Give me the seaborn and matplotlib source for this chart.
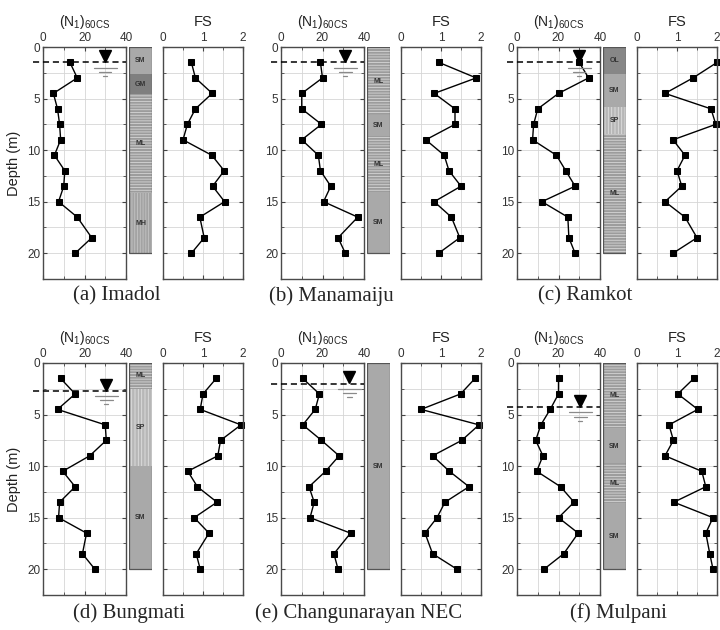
import numpy as np
import pandas as pd
import seaborn as sns
import matplotlib.pyplot as plt
from matplotlib.ticker import MultipleLocator

#####################################################################
# data
depth = [1.5, 3.0, 4.5, 6.0, 7.5, 9.0, 10.5, 12.0, 13.5, 15.0, 16.5, 18.5, 20.0]

letters = ["a", "b", "c", "d", "e", "f"]
sites = ["Imadol", "Manamaiju", "Ramkot", "Bungmati", "Changunarayan NEC", "Mulpani"]

n60_imadol = [13, 16.5, 5, 7, 8, 8.5, 5.5, 10.5, 10, 7.5, 16.5, 23.5, 15.5]
n60_manamaiju = [19, 20, 10, 10, 19.5, 10, 18, 19, 24, 20.5, 37, 27.5, 31]
n60_ramkot = [30, 34.5, 20, 10, 8, 7.5, 19, 23.5, 28, 12, 24.5, 25, 28]
n60_bungmati = [8.5, 15.5, 7, 30, 30.5, 22.5, 9.5, 15.5, 8, 7.5, 21, 19, 25]
n60_changu = [10.5, 18.5, 16.5, 10.5, 19.5, 28, 21.5, 13.5, 16, 14, 33.5, 25.5, 27.5]
n60_mulpani = [20, 20, 16, 11.5, 9, 12.5, 9.5, 21, 27.5, 20, 29.5, 22.5, 13]

fs_imadol = [0.71, 0.81, 1.23, 0.81, 0.61, 0.5, 1.22, 1.53, 1.24, 1.54, 0.92, 1.03, 0.71]
fs_manamaiju = [0.95, 1.88, 0.83, 1.35, 1.35, 0.62, 1.08, 1.2, 1.5, 0.83, 1.26, 1.47, 0.94]
fs_ramkot = [2.0, 1.4, 0.7, 1.85, 1.97, 0.9, 1.2, 1.0, 1.12, 0.7, 1.2, 1.5, 0.9]
fs_bungmati = [1.33, 1.0, 0.93, 1.95, 1.44, 1.37, 0.62, 0.86, 1.35, 0.78, 1.15, 0.83, 0.93]
fs_changu = [1.85, 1.49, 0.5, 1.95, 1.52, 0.79, 1.21, 1.7, 1.1, 0.9, 0.6, 0.79, 1.4]
fs_mulpani = [1.42, 1.02, 1.52, 0.8, 0.91, 0.7, 1.62, 1.72, 0.92, 1.9, 1.72, 1.82, 1.9]

n60_all = [n60_imadol, n60_manamaiju, n60_ramkot, n60_bungmati, n60_changu, n60_mulpani]
fs_all = [fs_imadol, fs_manamaiju, fs_ramkot, fs_bungmati, fs_changu, fs_mulpani]

water_depth = [1.5, 1.5, 1.5, 2.7, 2.0, 4.3]
water_mark_n = [30, 31, 30, 30.5, 33, 30.5]

# soil layers: code, top, bottom
layers_imadol = [("SM", 0, 2.6), ("GM", 2.6, 4.6), ("ML", 4.6, 14.2), ("MH", 14.2, 20)]
layers_manamaiju = [("ML", 0, 6.6), ("SM", 6.6, 8.6), ("ML", 8.6, 14.1), ("SM", 14.1, 20)]
layers_ramkot = [("OL", 0, 2.6), ("SM", 2.6, 5.8), ("SP", 5.8, 8.4), ("ML", 8.4, 20)]
layers_bungmati = [("ML", 0, 2.5), ("SP", 2.5, 10), ("SM", 10, 20)]
layers_changu = [("SM", 0, 20)]
layers_mulpani = [("ML", 0, 6.4), ("SM", 6.4, 9.7), ("ML", 9.7, 13.7), ("SM", 13.7, 20)]
layers_all = [layers_imadol, layers_manamaiju, layers_ramkot,
              layers_bungmati, layers_changu, layers_mulpani]

soil_style = {
    "SM": dict(fc="#a9a9a9", hatch=None, hc="#a9a9a9"),
    "GM": dict(fc="#7f7f7f", hatch=None, hc="#7f7f7f"),
    "OL": dict(fc="#878787", hatch=None, hc="#878787"),
    "ML": dict(fc="#9c9c9c", hatch="------", hc="#d6d6d6"),
    "MH": dict(fc="#a3a3a3", hatch="||||||", hc="#c4c4c4"),
    "SP": dict(fc="#b7b7b7", hatch="|||||", hc="#e0e0e0"),
}

#####################################################################
sns.set_style("ticks")
plt.rcParams['font.family'] = ['Liberation Sans', 'DejaVu Sans']
plt.rcParams['mathtext.default'] = 'regular'
plt.rcParams['hatch.linewidth'] = 0.6

W, H = 720, 630
fig = plt.figure(figsize=(7.2, 6.3), dpi=100)


def px_axes(x0, y_top, w, h):
    return fig.add_axes([x0 / W, 1 - (y_top + h) / H, w / W, h / H])


def style_axes(ax, xmax, xstep, show_y):
    ax.set_xlim(0, xmax)
    ax.set_ylim(22.5, 0)
    ax.xaxis.set_major_locator(MultipleLocator(xstep))
    ax.xaxis.set_minor_locator(MultipleLocator(xstep / 2))
    ax.yaxis.set_major_locator(MultipleLocator(5))
    ax.yaxis.set_minor_locator(MultipleLocator(2.5))
    ax.grid(True, which="both", color="#d6d6d6", linewidth=0.6)
    ax.set_axisbelow(True)
    ax.tick_params(which="both", direction="in", top=True, right=True,
                   bottom=True, left=True, labeltop=True, labelbottom=False,
                   labelleft=show_y, colors="#444444", labelcolor="#333333",
                   labelsize=8.5, pad=2)
    ax.tick_params(which="major", length=3)
    ax.tick_params(which="minor", length=2)
    for sp in ax.spines.values():
        sp.set_color("#4a4a4a")
        sp.set_linewidth(1.0)
    ax.set_xlabel("")
    ax.set_ylabel("")


origins = [(43, 47), (281, 47), (517, 47), (43, 363), (281, 363), (517, 363)]
caption_xy = [(117, 296), (331, 296), (585, 296), (129, 613), (359, 613), (618, 613)]
ph = 232

for i in range(6):
    x0, y0 = origins[i]
    ax_n = px_axes(x0, y0, 83, ph)
    ax_c = px_axes(x0 + 86, y0, 23, ph)
    ax_f = px_axes(x0 + 120, y0, 80, ph)

    df = pd.DataFrame({"depth": depth, "N": n60_all[i], "FS": fs_all[i]})

    sns.lineplot(data=df, x="N", y="depth", sort=False, estimator=None,
                 marker="s", markersize=4, color="black", linewidth=1,
                 markeredgecolor="black", ax=ax_n)
    sns.lineplot(data=df, x="FS", y="depth", sort=False, estimator=None,
                 marker="s", markersize=4, color="black", linewidth=1,
                 markeredgecolor="black", ax=ax_f)
    for ln in ax_n.lines + ax_f.lines:
        ln.set_clip_on(False)

    style_axes(ax_n, 40, 20, True)
    style_axes(ax_f, 2, 1, False)
    ax_n.set_title(r"(N$_1$)$_{60CS}$", fontsize=10, pad=15, color="#222222")
    ax_f.set_title("FS", fontsize=10.5, pad=15, color="#222222")
    if i in (0, 3):
        ax_n.set_ylabel("Depth (m)", fontsize=10.5, color="#222222", labelpad=4)

    # water table
    wt = water_depth[i]
    wm = water_mark_n[i]
    ax_n.plot([-0.12, 1.0], [wt, wt], transform=ax_n.get_yaxis_transform(),
              ls=(0, (4, 2.5)), color="black", lw=1.1, clip_on=False, zorder=4)
    ax_n.plot([wm], [wt - 0.6], marker="v", markersize=9, color="black",
              zorder=6, ls="none")
    for off, half in zip([0.5, 0.9, 1.3], [5.5, 3.0, 1.0]):
        ax_n.plot([wm - half, wm + half], [wt + off, wt + off],
                  color="#8a8a8a", lw=0.9, zorder=4)

    # soil column
    for code, top, bot in layers_all[i]:
        st = soil_style[code]
        ax_c.bar(0.5, bot - top, bottom=top, width=1, color=st["fc"],
                 hatch=st["hatch"], edgecolor=st["hc"], linewidth=0)
        ax_c.text(0.5, (top + bot) / 2, code, ha="center", va="center",
                  fontsize=5, fontweight="bold", color="#333333")
    ax_c.bar(0.5, 20, bottom=0, width=1, fill=False, edgecolor="#555555",
             linewidth=0.9)
    ax_c.set_xlim(0, 1)
    ax_c.set_ylim(22.5, 0)
    ax_c.axis("off")

    cx, cy = caption_xy[i]
    fig.text(cx / W, 1 - cy / H, f"({letters[i]}) {sites[i]}", ha="center",
             va="center", fontsize=15, family="Liberation Serif")

plt.savefig("out.png", dpi=100)
